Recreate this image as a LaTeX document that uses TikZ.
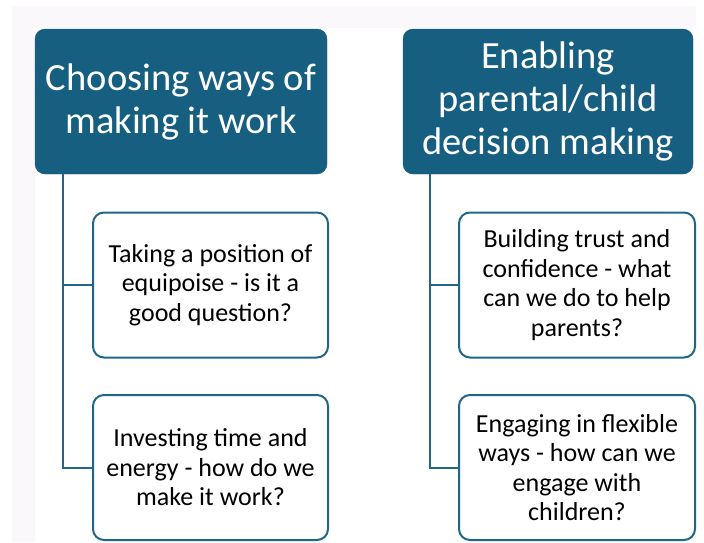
\documentclass[tikz,border=0pt]{standalone}
\usepackage{fontspec}
\setmainfont{Carlito}
\definecolor{headblue}{HTML}{175F80}
\definecolor{edgeblue}{HTML}{1F6688}
\definecolor{paper}{HTML}{FAF8FA}
\begin{document}
\begin{tikzpicture}[x=1pt,y=-1pt,
  header/.style={draw=headblue,fill=headblue,rounded corners=10pt,text=white,
    align=center,font=\fontsize{38.5}{43}\selectfont,inner sep=0pt},
  item/.style={draw=edgeblue,line width=2pt,fill=white,rounded corners=11pt,
    text=black,align=center,font=\fontsize{26}{29.5}\selectfont,inner sep=0pt,
    minimum width=235pt,minimum height=145pt},
  link/.style={draw=edgeblue,line width=2pt}]
  \useasboundingbox (0,0) rectangle (704,542);
  % faint paper margins
  \fill[paper] (12,6) rectangle (696,28);
  \fill[paper] (12,6) rectangle (35,542);

  % column headers
  \node[header,minimum width=292pt,minimum height=145pt] (hl) at (181,101.5)
    {Choosing ways of\\making it work};
  \node[header,minimum width=290pt,minimum height=145pt] (hr) at (548,101.5)
    {Enabling\\parental/child\\decision making};

  % left column items
  \node[item] (l1) at (210.5,285) {Taking a position of\\equipoise - is it a\\good question?};
  \node[item] (l2) at (210.5,467.5) {Investing time and\\energy - how do we\\make it work?};
  % right column items
  \node[item,minimum width=236pt] (r1) at (577,285) {Building trust and\\confidence - what\\can we do to help\\parents?};
  \node[item,minimum width=236pt] (r2) at (577,467.5) {Engaging in flexible\\ways - how can we\\engage with\\children?};

  % tree connectors
  \coordinate (lt) at (63,174);
  \coordinate (rt) at (430,174);
  \draw[link] (lt) |- (l2.west);
  \draw[link] (l1.west) -- (l1.west -| lt);
  \draw[link] (rt) |- (r2.west);
  \draw[link] (r1.west) -- (r1.west -| rt);
\end{tikzpicture}
\end{document}
